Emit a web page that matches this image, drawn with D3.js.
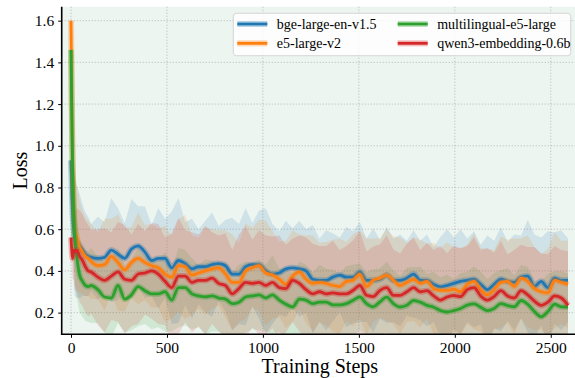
<!DOCTYPE html>
<html>
<head>
<meta charset="utf-8">
<script src="https://cdn.jsdelivr.net/npm/d3@7"></script>
<style>
  html, body { margin: 0; padding: 0; background: #ffffff; }
  svg { display: block; }
  svg text { font-family: "Liberation Serif", "Times New Roman", serif; }
</style>
</head>
<body>
<svg id="chart" width="575" height="378"></svg>
<script>
// Training steps at which the smoothed loss is recorded
const steps = [0,4,8,12,16,20,30,45,60,75,90,
  105,140,175,210,245,280,315,350,385,420,
  455,490,525,560,595,630,665,700,735,770,
  805,840,875,910,945,980,1015,1050,1085,1120,
  1155,1190,1225,1260,1295,1330,1365,1400,1435,1470,
  1505,1540,1575,1610,1645,1680,1715,1750,1785,1820,
  1855,1890,1925,1960,1995,2030,2065,2100,2135,2170,
  2205,2240,2275,2310,2345,2380,2415,2450,2485,2520,
  2555,2590];

const seriesNames = ["bge-large-en-v1.5", "e5-large-v2", "multilingual-e5-large", "qwen3-embedding-0.6b"];

// Mean loss per model
const bgeLoss = [0.93,0.80,0.68,0.62,0.58,0.56,0.54,0.52,0.50,0.48,0.47,
  0.465,0.46,0.465,0.50,0.48,0.46,0.505,0.52,0.49,0.45,
  0.46,0.46,0.415,0.45,0.435,0.41,0.42,0.42,0.43,0.435,
  0.425,0.385,0.385,0.42,0.43,0.43,0.40,0.385,0.39,0.41,
  0.415,0.41,0.40,0.36,0.355,0.355,0.37,0.38,0.37,0.37,
  0.395,0.355,0.355,0.36,0.38,0.355,0.355,0.365,0.385,0.355,
  0.355,0.335,0.323,0.33,0.34,0.35,0.355,0.36,0.335,0.31,
  0.335,0.36,0.35,0.345,0.37,0.375,0.325,0.35,0.32,0.365,
  0.355,0.355];
const e5Loss = [1.60,1.25,0.95,0.78,0.66,0.60,0.56,0.515,0.49,0.47,0.46,
  0.445,0.425,0.43,0.47,0.44,0.405,0.44,0.46,0.44,0.425,
  0.415,0.385,0.37,0.425,0.42,0.38,0.39,0.40,0.41,0.415,
  0.385,0.345,0.345,0.40,0.415,0.425,0.39,0.38,0.36,0.335,
  0.375,0.395,0.36,0.34,0.345,0.34,0.33,0.325,0.35,0.355,
  0.385,0.325,0.355,0.365,0.38,0.355,0.33,0.345,0.36,0.34,
  0.35,0.315,0.307,0.307,0.312,0.30,0.335,0.35,0.31,0.285,
  0.31,0.345,0.35,0.325,0.365,0.35,0.315,0.30,0.295,0.355,
  0.345,0.335];
const me5Loss = [1.46,1.15,0.90,0.74,0.63,0.56,0.47,0.38,0.35,0.33,0.325,
  0.33,0.31,0.275,0.27,0.33,0.265,0.285,0.325,0.305,0.29,
  0.29,0.30,0.26,0.32,0.32,0.29,0.28,0.275,0.28,0.27,
  0.265,0.243,0.25,0.275,0.28,0.285,0.27,0.285,0.26,0.24,
  0.227,0.265,0.26,0.243,0.25,0.25,0.237,0.237,0.243,0.259,
  0.275,0.243,0.228,0.252,0.274,0.243,0.227,0.235,0.258,0.25,
  0.235,0.226,0.21,0.203,0.21,0.22,0.236,0.242,0.226,0.21,
  0.22,0.243,0.234,0.228,0.258,0.24,0.205,0.18,0.205,0.24,
  0.228,0.227];
const qwenLoss = [0.56,0.50,0.46,0.48,0.50,0.49,0.50,0.47,0.45,0.42,0.40,
  0.395,0.37,0.355,0.375,0.395,0.36,0.355,0.385,0.39,0.40,
  0.385,0.35,0.32,0.375,0.375,0.345,0.355,0.355,0.365,0.34,
  0.33,0.29,0.315,0.345,0.34,0.345,0.33,0.345,0.32,0.315,
  0.355,0.34,0.31,0.29,0.30,0.29,0.295,0.29,0.29,0.307,
  0.33,0.283,0.277,0.307,0.32,0.283,0.283,0.30,0.32,0.30,
  0.305,0.28,0.26,0.275,0.282,0.277,0.31,0.32,0.28,0.26,
  0.277,0.305,0.28,0.27,0.305,0.285,0.255,0.235,0.25,0.28,
  0.27,0.235];

// Standard deviation of the loss per model (shaded band = mean ± std)
const bgeStd = [0.03,0.10,0.18,0.24,0.27,0.28,0.27,0.25,0.22,0.20,0.19,
  0.16,0.2,0.17,0.25,0.22,0.17,0.24,0.19,0.22,0.17,
  0.24,0.19,0.27,0.3,0.2,0.24,0.18,0.22,0.25,0.18,
  0.22,0.27,0.24,0.28,0.2,0.26,0.3,0.24,0.2,0.23,
  0.19,0.23,0.2,0.26,0.2,0.24,0.21,0.18,0.24,0.22,
  0.24,0.2,0.25,0.19,0.23,0.2,0.22,0.18,0.21,0.19,
  0.22,0.18,0.24,0.27,0.22,0.25,0.2,0.23,0.19,0.26,
  0.21,0.25,0.19,0.23,0.2,0.27,0.25,0.21,0.27,0.22,
  0.24,0.2];
const e5Std = [0.02,0.10,0.20,0.25,0.27,0.27,0.25,0.22,0.20,0.19,0.18,
  0.18,0.16,0.22,0.18,0.23,0.2,0.17,0.22,0.18,0.2,
  0.19,0.23,0.2,0.22,0.25,0.19,0.17,0.21,0.19,0.18,
  0.21,0.23,0.19,0.23,0.19,0.22,0.25,0.21,0.18,0.21,
  0.22,0.18,0.21,0.23,0.19,0.2,0.22,0.23,0.19,0.22,
  0.21,0.23,0.2,0.19,0.22,0.21,0.23,0.19,0.2,0.21,
  0.18,0.22,0.2,0.23,0.2,0.21,0.19,0.23,0.2,0.22,
  0.19,0.22,0.2,0.23,0.19,0.22,0.2,0.18,0.21,0.23,
  0.2,0.21];
const me5Std = [0.02,0.10,0.18,0.22,0.22,0.22,0.20,0.18,0.17,0.17,0.17,
  0.18,0.16,0.17,0.19,0.18,0.16,0.17,0.19,0.16,0.17,
  0.16,0.19,0.15,0.19,0.18,0.17,0.15,0.18,0.17,0.16,
  0.18,0.15,0.18,0.17,0.16,0.17,0.16,0.19,0.15,0.17,
  0.16,0.18,0.17,0.15,0.18,0.16,0.17,0.15,0.18,0.17,
  0.16,0.15,0.18,0.16,0.17,0.16,0.15,0.18,0.16,0.17,
  0.15,0.17,0.16,0.18,0.15,0.17,0.16,0.18,0.17,0.15,
  0.17,0.16,0.18,0.15,0.17,0.18,0.15,0.17,0.18,0.16,
  0.17,0.16];
const qwenStd = [0.05,0.08,0.10,0.12,0.15,0.18,0.20,0.22,0.22,0.22,0.22,
  0.2,0.23,0.25,0.21,0.24,0.26,0.22,0.24,0.2,0.23,
  0.24,0.21,0.26,0.28,0.22,0.24,0.22,0.26,0.22,0.23,
  0.25,0.21,0.26,0.27,0.21,0.25,0.24,0.22,0.25,0.21,
  0.2,0.23,0.25,0.24,0.22,0.23,0.25,0.21,0.23,0.24,
  0.26,0.21,0.24,0.22,0.25,0.22,0.2,0.23,0.24,0.2,
  0.23,0.22,0.26,0.21,0.24,0.23,0.21,0.24,0.22,0.25,
  0.21,0.24,0.2,0.23,0.22,0.23,0.26,0.25,0.23,0.24,
  0.23,0.26];

const xTicks = [0, 500, 1000, 1500, 2000, 2500];
const yTicks = [0.2, 0.4, 0.6, 0.8, 1.0, 1.2, 1.4, 1.6];

const colors = ["#1f77b4", "#ff7f0e", "#2ca02c", "#d62728"];
const means = [bgeLoss, e5Loss, me5Loss, qwenLoss];
const stds = [bgeStd, e5Std, me5Std, qwenStd];

const series = seriesNames.map((name, i) => ({
  name,
  color: colors[i],
  values: steps.map((s, j) => ({ step: s, mean: means[i][j], std: stds[i][j] }))
}));

const serif = "'Liberation Serif', 'Times New Roman', serif";
const svg = d3.select("#chart");
const plot = { left: 61.7, right: 578, top: 6.7, bottom: 334.3 };

const x = d3.scaleLinear().domain([-48.5, 2642]).range([plot.left, plot.right]);
const y = d3.scaleLinear().domain([0.096, 1.667]).range([plot.bottom, plot.top]);

// Axes background
svg.append("rect")
  .attr("x", plot.left).attr("y", plot.top)
  .attr("width", plot.right - plot.left).attr("height", plot.bottom - plot.top)
  .attr("fill", "#edf5f0");

svg.append("clipPath").attr("id", "plot-clip")
  .append("rect")
  .attr("x", plot.left).attr("y", plot.top)
  .attr("width", plot.right - plot.left).attr("height", plot.bottom - plot.top);

// Dotted grid
const grid = svg.append("g").attr("stroke", "#b4b4b4").attr("stroke-width", 0.8)
  .attr("stroke-dasharray", "1.2,1.8");
grid.selectAll(".gx").data(xTicks).join("line")
  .attr("x1", d => x(d)).attr("x2", d => x(d))
  .attr("y1", plot.top).attr("y2", plot.bottom);
grid.selectAll(".gy").data(yTicks).join("line")
  .attr("x1", plot.left).attr("x2", plot.right)
  .attr("y1", d => y(d)).attr("y2", d => y(d));

const body = svg.append("g").attr("clip-path", "url(#plot-clip)");

// Shaded bands (mean ± std)
const band = d3.area()
  .x(d => x(d.step))
  .y0(d => y(d.mean - d.std))
  .y1(d => y(d.mean + d.std))
  .curve(d3.curveLinear);

body.selectAll(".band").data(series).join("path")
  .attr("d", d => band(d.values))
  .attr("fill", d => d.color)
  .attr("fill-opacity", 0.15)
  .attr("stroke", "none");

// Mean curves with a soft halo
const line = d3.line()
  .x(d => x(d.step))
  .y(d => y(d.mean))
  .curve(d3.curveMonotoneX);

const curves = body.selectAll(".curve").data(series).join("g");
curves.append("path")
  .attr("d", d => line(d.values))
  .attr("fill", "none")
  .attr("stroke", d => d.color)
  .attr("stroke-opacity", 0.3)
  .attr("stroke-width", 6)
  .attr("stroke-linejoin", "round");
curves.append("path")
  .attr("d", d => line(d.values))
  .attr("fill", "none")
  .attr("stroke", d => d.color)
  .attr("stroke-width", 2.8)
  .attr("stroke-linejoin", "round");

// Axes
const xAxis = svg.append("g")
  .attr("transform", `translate(0,${plot.bottom})`)
  .call(d3.axisBottom(x).tickValues(xTicks).tickFormat(d3.format("d")).tickSize(3.5).tickPadding(4));
const yAxis = svg.append("g")
  .attr("transform", `translate(${plot.left},0)`)
  .call(d3.axisLeft(y).tickValues(yTicks).tickFormat(d3.format(".1f")).tickSize(3.5).tickPadding(4));

[xAxis, yAxis].forEach(g => {
  g.attr("font-family", serif).attr("font-size", 15.5);
  g.select(".domain").remove();
  g.selectAll(".tick line").attr("stroke", "#000").attr("stroke-width", 1);
  g.selectAll(".tick text")
    .attr("fill", "#000")
    .attr("font-family", serif)
    .attr("font-size", 15.5);
});

// Spines
svg.append("line")
  .attr("x1", plot.left).attr("x2", plot.left)
  .attr("y1", plot.top).attr("y2", plot.bottom + 0.75)
  .attr("stroke", "#000").attr("stroke-width", 1.6);
svg.append("line")
  .attr("x1", plot.left - 0.75).attr("x2", plot.right)
  .attr("y1", plot.bottom).attr("y2", plot.bottom)
  .attr("stroke", "#000").attr("stroke-width", 1.6);

// Axis titles
svg.append("text")
  .attr("x", (plot.left + plot.right) / 2).attr("y", 373)
  .attr("text-anchor", "middle")
  .attr("font-family", serif)
  .attr("font-size", 20)
  .text("Training Steps");
svg.append("text")
  .attr("transform", `translate(27,${(plot.top + plot.bottom) / 2}) rotate(-90)`)
  .attr("text-anchor", "middle")
  .attr("font-family", serif)
  .attr("font-size", 20)
  .text("Loss");

// Legend
const legend = svg.append("g");
legend.append("rect")
  .attr("x", 233.3).attr("y", 13.3)
  .attr("width", 337.4).attr("height", 42.4)
  .attr("rx", 3)
  .attr("fill", "#ffffff").attr("fill-opacity", 0.8)
  .attr("stroke", "#cccccc").attr("stroke-width", 0.8);

const legendPos = [
  { lx: 237.3, ty: 24 },
  { lx: 237.3, ty: 43.3 },
  { lx: 397.7, ty: 24 },
  { lx: 397.7, ty: 43.3 }
];
const items = legend.selectAll(".item").data(series).join("g")
  .attr("transform", (d, i) => `translate(${legendPos[i].lx},${legendPos[i].ty})`);
items.append("line")
  .attr("x1", 0).attr("x2", 30).attr("y1", 0).attr("y2", 0)
  .attr("stroke", d => d.color).attr("stroke-opacity", 0.3).attr("stroke-width", 6);
items.append("line")
  .attr("x1", 0).attr("x2", 30).attr("y1", 0).attr("y2", 0)
  .attr("stroke", d => d.color).attr("stroke-width", 2.8);
items.append("text")
  .attr("x", 39.5).attr("y", 0).attr("dy", "0.33em")
  .attr("font-family", serif)
  .attr("font-size", 14)
  .text(d => d.name);
</script>
</body>
</html>
